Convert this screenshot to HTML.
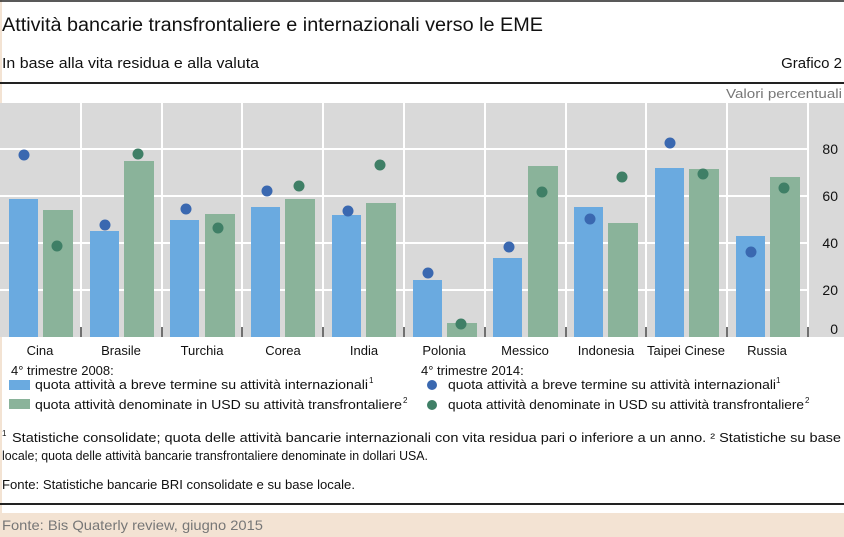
<!DOCTYPE html>
<html><head><meta charset="utf-8"><style>
body{margin:0;background:#fff;}
svg{display:block;font-family:"Liberation Sans",sans-serif;}
</style></head><body>
<svg width="844" height="537" viewBox="0 0 844 537">
<rect x="0" y="0" width="844" height="537" fill="#fff"/>
<rect x="0" y="0" width="2" height="513" fill="#f3e3d3"/>
<line x1="0" y1="1" x2="844" y2="1" stroke="#222" stroke-width="1.5"/>
<text x="2" y="31" font-size="19" fill="#111" textLength="541" lengthAdjust="spacingAndGlyphs">Attività bancarie transfrontaliere e internazionali verso le EME</text>
<text x="2" y="68" font-size="15" fill="#111" textLength="257" lengthAdjust="spacingAndGlyphs">In base alla vita residua e alla valuta</text>
<text x="842" y="68" font-size="15" fill="#111" text-anchor="end">Grafico 2</text>
<line x1="0" y1="83" x2="844" y2="83" stroke="#222" stroke-width="2"/>
<text x="842" y="98" font-size="13" fill="#777" text-anchor="end" textLength="116" lengthAdjust="spacingAndGlyphs">Valori percentuali</text>
<rect x="0" y="103" width="844" height="234" fill="#d9d9d9"/>
<g stroke="#fff" stroke-width="2">
<line x1="0" y1="149" x2="808" y2="149"/><line x1="0" y1="196" x2="808" y2="196"/>
<line x1="0" y1="243" x2="808" y2="243"/><line x1="0" y1="290" x2="808" y2="290"/>
<line x1="81" y1="103" x2="81" y2="337"/><line x1="162" y1="103" x2="162" y2="337"/>
<line x1="242" y1="103" x2="242" y2="337"/><line x1="323" y1="103" x2="323" y2="337"/>
<line x1="404" y1="103" x2="404" y2="337"/><line x1="485" y1="103" x2="485" y2="337"/>
<line x1="566" y1="103" x2="566" y2="337"/><line x1="646" y1="103" x2="646" y2="337"/>
<line x1="727" y1="103" x2="727" y2="337"/><line x1="808" y1="103" x2="808" y2="337"/>
</g>
<g font-size="14" fill="#111" text-anchor="end">
<text x="838" y="154">80</text><text x="838" y="201">60</text><text x="838" y="248">40</text><text x="838" y="295">20</text><text x="838" y="334">0</text>
</g>
<g fill="#6aaae0">
<rect x="9" y="199" width="29" height="138"/>
<rect x="90" y="231" width="29" height="106"/>
<rect x="170" y="220" width="29" height="117"/>
<rect x="251" y="207" width="29" height="130"/>
<rect x="332" y="215" width="29" height="122"/>
<rect x="413" y="280" width="29" height="57"/>
<rect x="493" y="258" width="29" height="79"/>
<rect x="574" y="207" width="29" height="130"/>
<rect x="655" y="168" width="29" height="169"/>
<rect x="736" y="236" width="29" height="101"/>
</g>
<g fill="#8ab39a">
<rect x="43" y="210" width="30" height="127"/>
<rect x="124" y="161" width="30" height="176"/>
<rect x="205" y="214" width="30" height="123"/>
<rect x="285" y="199" width="30" height="138"/>
<rect x="366" y="203" width="30" height="134"/>
<rect x="447" y="323" width="30" height="14"/>
<rect x="528" y="166" width="30" height="171"/>
<rect x="608" y="223" width="30" height="114"/>
<rect x="689" y="169" width="30" height="168"/>
<rect x="770" y="177" width="30" height="160"/>
</g>
<g fill="#3a68b0">
<circle cx="24" cy="155" r="5.5"/><circle cx="105" cy="225" r="5.5"/><circle cx="186" cy="209" r="5.5"/>
<circle cx="267" cy="191" r="5.5"/><circle cx="348" cy="211" r="5.5"/><circle cx="428" cy="273" r="5.5"/>
<circle cx="509" cy="247" r="5.5"/><circle cx="590" cy="219" r="5.5"/><circle cx="670" cy="143" r="5.5"/>
<circle cx="751" cy="252" r="5.5"/>
</g>
<g fill="#3f7f66">
<circle cx="57" cy="246" r="5.5"/><circle cx="138" cy="154" r="5.5"/><circle cx="218" cy="228" r="5.5"/>
<circle cx="299" cy="186" r="5.5"/><circle cx="380" cy="165" r="5.5"/><circle cx="461" cy="324" r="5.5"/>
<circle cx="542" cy="192" r="5.5"/><circle cx="622" cy="177" r="5.5"/><circle cx="703" cy="174" r="5.5"/>
<circle cx="784" cy="188" r="5.5"/>
</g>
<g stroke="#111" stroke-width="1.2">
<line x1="81" y1="327" x2="81" y2="337"/><line x1="162" y1="327" x2="162" y2="337"/><line x1="242" y1="327" x2="242" y2="337"/>
<line x1="323" y1="327" x2="323" y2="337"/><line x1="404" y1="327" x2="404" y2="337"/><line x1="485" y1="327" x2="485" y2="337"/>
<line x1="566" y1="327" x2="566" y2="337"/><line x1="646" y1="327" x2="646" y2="337"/><line x1="727" y1="327" x2="727" y2="337"/>
<line x1="808" y1="327" x2="808" y2="337"/>
</g>
<g font-size="13" fill="#111" text-anchor="middle">
<text x="40" y="355">Cina</text><text x="121" y="355">Brasile</text><text x="202" y="355">Turchia</text>
<text x="283" y="355">Corea</text><text x="364" y="355">India</text><text x="444" y="355">Polonia</text>
<text x="525" y="355">Messico</text><text x="606" y="355">Indonesia</text><text x="686" y="355">Taipei Cinese</text>
<text x="767" y="355">Russia</text>
</g>
<g font-size="13" fill="#111">
<text x="11" y="375">4° trimestre 2008:</text>
<rect x="9" y="380" width="21" height="10" fill="#6aaae0"/>
<text x="35" y="389" textLength="333" lengthAdjust="spacingAndGlyphs">quota attività a breve termine su attività internazionali</text><text x="369" y="383" font-size="8">1</text>
<rect x="9" y="399" width="21" height="10" fill="#8ab39a"/>
<text x="35" y="409" textLength="367" lengthAdjust="spacingAndGlyphs">quota attività denominate in USD su attività transfrontaliere</text><text x="403" y="403" font-size="8">2</text>
<text x="421" y="375">4° trimestre 2014:</text>
<circle cx="432" cy="385" r="5" fill="#3a68b0"/>
<text x="448" y="389" textLength="328" lengthAdjust="spacingAndGlyphs">quota attività a breve termine su attività internazionali</text><text x="776" y="383" font-size="8">1</text>
<circle cx="432" cy="405" r="5" fill="#3f7f66"/>
<text x="448" y="409" textLength="356" lengthAdjust="spacingAndGlyphs">quota attività denominate in USD su attività transfrontaliere</text><text x="805" y="403" font-size="8">2</text>
<text x="2" y="436" font-size="8">1</text>
<text x="12" y="442" textLength="829" lengthAdjust="spacingAndGlyphs">Statistiche consolidate; quota delle attività bancarie internazionali con vita residua pari o inferiore a un anno.  ² Statistiche su base</text>
<text x="2" y="460" textLength="426" lengthAdjust="spacingAndGlyphs">locale; quota delle attività bancarie transfrontaliere denominate in dollari USA.</text>
<text x="2" y="489" textLength="353" lengthAdjust="spacingAndGlyphs">Fonte: Statistiche bancarie BRI consolidate e su base locale.</text>
</g>
<line x1="0" y1="504" x2="844" y2="504" stroke="#222" stroke-width="2"/>
<rect x="0" y="513" width="844" height="24" fill="#f3e3d3"/>
<text x="2" y="530" font-size="14" fill="#777" textLength="261" lengthAdjust="spacingAndGlyphs">Fonte: Bis Quaterly review, giugno 2015</text>
</svg>
</body></html>
